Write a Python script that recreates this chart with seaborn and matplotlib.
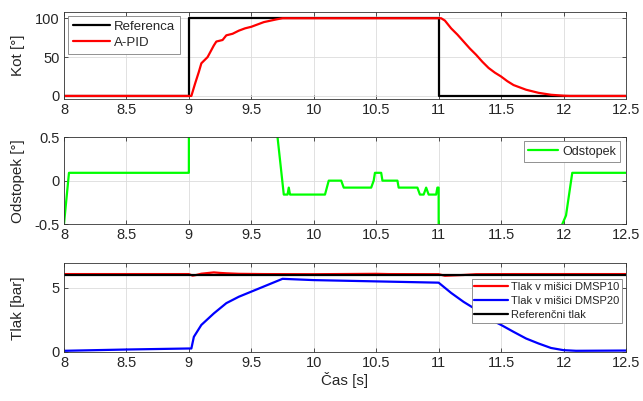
import numpy as np
import pandas as pd
import seaborn as sns
import matplotlib
matplotlib.use("Agg")
import matplotlib.pyplot as plt
from matplotlib.ticker import FormatStrFormatter

# --- panel 1: kot ---
ref_t = [8.0, 9.0, 9.0, 11.0, 11.0, 12.5]
ref_v = [0, 0, 100, 100, 0, 0]

pid_t = [8.0, 9.02, 9.05, 9.08, 9.10, 9.15, 9.20, 9.22, 9.27, 9.30, 9.35, 9.40,
         9.45, 9.50, 9.55, 9.60, 9.70, 9.75, 11.02, 11.05, 11.10, 11.15, 11.20,
         11.25, 11.30, 11.35, 11.40, 11.45, 11.50, 11.55, 11.60, 11.65, 11.70,
         11.80, 11.90, 12.00, 12.05, 12.5]
pid_v = [0, 0, 16, 31, 42, 50, 65, 70, 72, 78, 80, 84,
         87, 89, 92, 95, 98.5, 100, 100, 97, 87, 79, 70,
         61, 53, 44, 36, 30, 25, 19, 14, 11, 8,
         4, 1.5, 0.3, 0, 0]

# --- panel 2: odstopek ---
err_t = [7.99, 8.0, 8.04, 8.99, 9.0, 9.001,
         9.70, 9.71, 9.76, 9.79, 9.80, 9.81, 9.82, 10.09, 10.12, 10.22, 10.24,
         10.46, 10.48, 10.49, 10.54, 10.55, 10.67, 10.68, 10.83, 10.85, 10.88,
         10.90, 10.92, 10.98, 10.99, 11.0, 11.001,
         11.98, 11.99, 12.02, 12.07, 12.5]
err_v = [-1.0, -0.5, 0.09, 0.09, 0.09, 2.0,
         2.0, 0.5, -0.16, -0.16, -0.08, -0.16, -0.16, -0.16, 0.0, 0.0, -0.08,
         -0.08, 0.0, 0.09, 0.09, 0.0, 0.0, -0.08, -0.08, -0.16, -0.16,
         -0.08, -0.16, -0.16, -0.08, -0.08, -2.0,
         -2.0, -0.5, -0.4, 0.09, 0.09]

# --- panel 3: tlak ---
p10_t = [8.0, 8.5, 9.0, 9.03, 9.06, 9.10, 9.20, 9.25, 9.30, 9.40, 9.60, 10.0,
         10.5, 10.6, 11.0, 11.05, 11.10, 11.20, 11.30, 11.60, 12.0, 12.5]
p10_v = [6.07, 6.07, 6.07, 5.95, 6.0, 6.1, 6.2, 6.16, 6.13, 6.09, 6.07, 6.06,
         6.09, 6.07, 6.06, 5.94, 5.96, 6.0, 6.06, 6.07, 6.07, 6.07]

p20_t = [8.0, 8.5, 9.0, 9.02, 9.04, 9.10, 9.20, 9.30, 9.40, 9.50, 9.60, 9.75,
         10.0, 10.5, 11.0, 11.1, 11.2, 11.3, 11.4, 11.5, 11.6, 11.7, 11.8,
         11.9, 12.0, 12.1, 12.5]
p20_v = [0.08, 0.18, 0.26, 0.26, 1.17, 2.1, 3.0, 3.8, 4.3, 4.7, 5.1, 5.7,
         5.6, 5.5, 5.4, 4.6, 3.9, 3.3, 2.6, 2.1, 1.56, 1.04, 0.65,
         0.3, 0.13, 0.08, 0.1]

pref_t = [8.0, 12.5]
pref_v = [6.0, 6.0]

xticks = [8, 8.5, 9, 9.5, 10, 10.5, 11, 11.5, 12, 12.5]

sns.set_theme(style="ticks")
plt.rcParams["font.family"] = ["Liberation Sans", "DejaVu Sans"]
plt.rcParams["axes.linewidth"] = 0.6

fig = plt.figure(figsize=(6.43, 4.01), dpi=100)
L, W = 0.0995, 0.874
ax1 = fig.add_axes([L, 0.753, W, 0.218])
ax2 = fig.add_axes([L, 0.441, W, 0.217])
ax3 = fig.add_axes([L, 0.122, W, 0.221])


def line(ax, t, v, color, label, lw=1.6):
    sns.lineplot(x=t, y=v, ax=ax, color=color, label=label, lw=lw,
                 estimator=None, sort=False)


line(ax1, ref_t, ref_v, "black", "Referenca")
line(ax1, pid_t, pid_v, "#ff0000", "A-PID")
line(ax2, err_t, err_v, "#00ff00", "Odstopek")
line(ax3, p10_t, p10_v, "#ff0000", "Tlak v mišici DMSP10")
line(ax3, p20_t, p20_v, "#0000ff", "Tlak v mišici DMSP20")
line(ax3, pref_t, pref_v, "black", "Referenčni tlak")

ax1.set_ylim(-4, 108.5)
ax1.set_yticks([0, 50, 100])
ax1.set_ylabel("Kot [°]", fontsize=11)
ax2.set_ylim(-0.5, 0.5)
ax2.set_yticks([-0.5, 0, 0.5])
ax2.set_ylabel("Odstopek [°]", fontsize=11)
ax3.set_ylim(-0.02, 6.9)
ax3.set_yticks([0, 5])
ax3.set_ylabel("Tlak [bar]", fontsize=11)
ax3.set_xlabel("Čas [s]", fontsize=11, labelpad=1)

for ax in (ax1, ax2, ax3):
    ax.set_xlim(8, 12.5)
    ax.set_xticks(xticks)
    ax.xaxis.set_major_formatter(FormatStrFormatter("%g"))
    ax.yaxis.set_major_formatter(FormatStrFormatter("%g"))
    ax.grid(True, color="#dcdcdc", lw=0.6)
    ax.tick_params(direction="in", length=3, width=0.6, labelsize=10.5,
                   top=True, right=True, color="#333333", pad=3)
    for s in ax.spines.values():
        s.set_color("#333333")
        s.set_visible(True)
    ax.yaxis.set_label_coords(-0.07, 0.5)

leg_kw = dict(fancybox=False, framealpha=1, edgecolor="#808080",
              borderpad=0.35, labelspacing=0.3, handletextpad=0.3)
lg1 = ax1.legend(loc="upper left", fontsize=9.5, handlelength=2.8,
                 bbox_to_anchor=(0.008, 0.95), borderaxespad=0.0, **leg_kw)
lg2 = ax2.legend(loc="upper right", fontsize=9, handlelength=2.4,
                 bbox_to_anchor=(0.99, 0.95), borderaxespad=0.0, **leg_kw)
lg3 = ax3.legend(loc="upper right", fontsize=8, handlelength=3.0,
                 bbox_to_anchor=(0.993, 0.82), borderaxespad=0.0,
                 **{**leg_kw, "labelspacing": 0.35, "borderpad": 0.25})
for lg in (lg1, lg2, lg3):
    lg.get_frame().set_linewidth(0.6)

fig.savefig("out.png", dpi=100)
